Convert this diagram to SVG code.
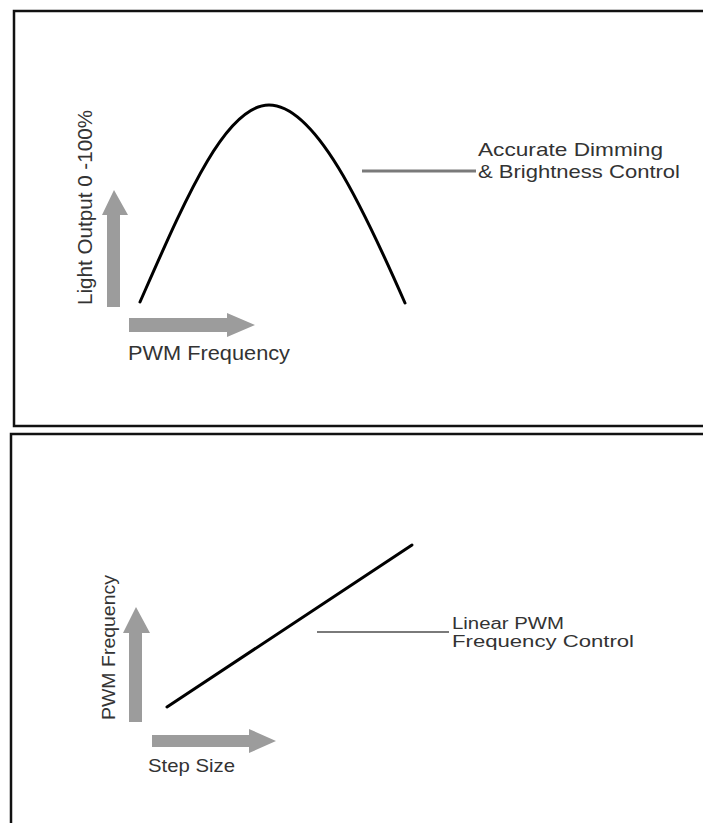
<svg xmlns="http://www.w3.org/2000/svg" width="703" height="823" viewBox="0 0 703 823">
<style>
.frame{fill:none;stroke:#111;stroke-width:2.5}
.t{font-family:"Liberation Sans","Open Sans",sans-serif;fill:#333}
.arrow{fill:#9c9c9c}
.lead{stroke:#7a7a7a;fill:none}
.plot{stroke:#000;fill:none;stroke-width:3;stroke-linecap:round}
</style>
<rect width="703" height="823" fill="#fff"/>
<g id="panel-top">
<rect class="frame" x="14" y="11" width="700" height="415"/>
</g>
<g id="panel-bottom">
<rect class="frame" x="11" y="434" width="700" height="400"/>
</g>
<g id="axes-top">
<path class="arrow" d="M107,307 L107,215 L102,215 L114,190 L128,215 L120,215 L120,307 Z"/>
<path class="arrow" d="M129,318 L227,318 L227,313 L255,325 L227,337 L227,332 L129,332 Z"/>
<text class="t" font-size="20" x="128" y="360" textLength="162" lengthAdjust="spacingAndGlyphs">PWM Frequency</text>
<text class="t" font-size="20" transform="translate(92,305) rotate(-90)" textLength="195" lengthAdjust="spacingAndGlyphs">Light Output 0 -100%</text>
</g>
<g id="curve">
<path class="plot" d="M140,302 C185,200 225,105 269,105 C315,105 362,205 405,303"/>
</g>
<g id="label-top">
<text class="t" font-size="19" x="478" y="156" textLength="185" lengthAdjust="spacingAndGlyphs">Accurate Dimming</text>
<text class="t" font-size="19" x="478" y="178" textLength="202" lengthAdjust="spacingAndGlyphs">&amp; Brightness Control</text>
</g>
<g id="axes-bottom">
<path class="arrow" d="M129,722 L129,633 L123,633 L136,607 L150,633 L142,633 L142,722 Z"/>
<path class="arrow" d="M152,735 L249,735 L249,729 L276,741 L249,753 L249,747 L152,747 Z"/>
<text class="t" font-size="19" x="148" y="772" textLength="87" lengthAdjust="spacingAndGlyphs">Step Size</text>
<text class="t" font-size="19" transform="translate(115,720) rotate(-90)" textLength="145" lengthAdjust="spacingAndGlyphs">PWM Frequency</text>
</g>
<g id="line">
<path class="plot" d="M167,707 L412,545"/>
</g>
<g id="label-bottom">
<text class="t" font-size="16" x="452" y="629" textLength="112" lengthAdjust="spacingAndGlyphs">Linear PWM</text>
<text class="t" font-size="16" x="452" y="647" textLength="182" lengthAdjust="spacingAndGlyphs">Frequency Control</text>
</g>
<g id="connectors">
<line class="lead" x1="362" y1="171" x2="476" y2="171" stroke-width="3"/>
<line class="lead" x1="317" y1="632" x2="449" y2="632" stroke-width="2"/>
</g>
</svg>
